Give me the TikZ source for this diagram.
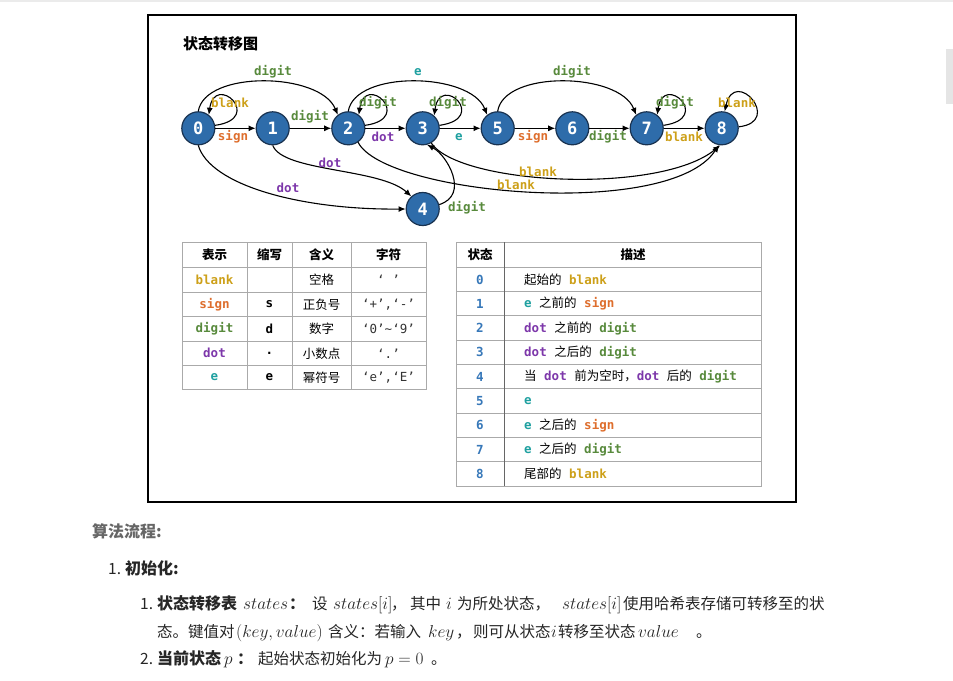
\documentclass[tikz,border=0pt]{standalone}
\usepackage[no-math]{fontspec}
\setmainfont{Noto Sans CJK SC}
\newfontfamily\monof{DejaVu Sans Mono}
\usetikzlibrary{arrows.meta}
\definecolor{cblank}{RGB}{205,160,25}
\definecolor{csign}{RGB}{222,110,45}
\definecolor{cdigit}{RGB}{88,138,60}
\definecolor{cdot}{RGB}{125,55,170}
\definecolor{ce}{RGB}{30,160,160}
\definecolor{cnum}{RGB}{55,120,185}
\definecolor{sfill}{RGB}{46,108,170}
\definecolor{sdraw}{RGB}{25,50,80}
\definecolor{tline}{RGB}{170,170,170}
\newcommand\Kw[2]{\textcolor{#1}{\monof\bfseries #2}}
\newcommand\Kblank{\Kw{cblank}{blank}}
\newcommand\Ksign{\Kw{csign}{sign}}
\newcommand\Kdigit{\Kw{cdigit}{digit}}
\newcommand\Kdot{\Kw{cdot}{dot}}
\newcommand\Ke{\Kw{ce}{e}}
\newcommand\gap{\hspace{0.6em}}
\begin{document}
\begin{tikzpicture}[x=1pt,y=-1pt,
  st/.style={circle, fill=sfill, draw=sdraw, line width=1.2pt, minimum size=33pt, inner sep=0pt, text=white, font=\monof\bfseries\fontsize{17}{17}\selectfont},
  arr/.style={-{Latex[length=7pt,width=6pt]}, line width=1.1pt},
  lbl/.style={font=\monof\bfseries\fontsize{12.5}{13}\selectfont, inner sep=0pt},
  tb/.style={font=\fontsize{12.5}{14}\selectfont, inner sep=0pt},
  tbh/.style={font=\bfseries\fontsize{12.5}{14}\selectfont, inner sep=0pt},
  tbm/.style={font=\monof\fontsize{12.5}{14}\selectfont, inner sep=0pt, text=black!80},
  tnum/.style={font=\monof\bfseries\fontsize{12.5}{14}\selectfont, inner sep=0pt, text=cnum},
  tdesc/.style={font=\fontsize{12.5}{14}\selectfont, inner sep=0pt, anchor=west},
  tgrid/.style={draw=tline, line width=0.9pt},
  body/.style={font=\fontsize{15.5}{19}\selectfont, inner sep=0pt, anchor=base west, text=black!85},
  bodym/.style={body, font=\fontsize{16}{19}\selectfont},
  bodyb/.style={body, font=\bfseries\fontsize{16}{19}\selectfont}
]
\useasboundingbox (0,0) rectangle (953,680);
\fill[white] (0,0) rectangle (953,680);
\draw[black!8, line width=2pt] (0,1) -- (953,1);
\fill[black!10] (946,49) rectangle (953,104);

% frame
\draw[line width=2pt] (148,15) rectangle (796,502);
\node[anchor=west, inner sep=0pt, font=\bfseries\fontsize{15}{17}\selectfont] (title) at (183,44) {状态转移图};

% states
\node[st] (n0) at (198.3,128.3) {0};
\node[st] (n1) at (272.7,128.3) {1};
\node[st] (n2) at (348.3,128.3) {2};
\node[st] (n3) at (422.7,128.3) {3};
\node[st] (n5) at (497.7,128.3) {5};
\node[st] (n6) at (572.3,128.3) {6};
\node[st] (n7) at (646.7,128.3) {7};
\node[st] (n8) at (721.7,128.3) {8};
\node[st] (n4) at (422.7,209) {4};

% straight edges
\draw[arr] (n0) -- (n1);
\draw[arr] (n1) -- (n2);
\draw[arr] (n2) -- (n3);
\draw[arr] (n3) -- (n5);
\draw[arr] (n5) -- (n6);
\draw[arr] (n6) -- (n7);
\draw[arr] (n7) -- (n8);

% top arcs
\draw[arr] (n0.90) .. controls (205,70) and (320,72) .. (n2.128);
\draw[arr] (n2.90) .. controls (355,70) and (470,72) .. (n5.128);
\draw[arr] (n5.90) .. controls (504,70) and (619,72) .. (n7.128);

% self loops
\draw[arr] (n0.10) .. controls +(50,-7) and +(6,-43) .. (n0.52);
\draw[arr] (n2.10) .. controls +(50,-7) and +(6,-43) .. (n2.52);
\draw[arr] (n3.10) .. controls +(50,-7) and +(6,-43) .. (n3.48);
\draw[arr] (n7.10) .. controls +(50,-7) and +(6,-43) .. (n7.52);
\draw[arr] (n8.5) .. controls +(45,-5) and +(10,-45) .. (n8.80);

% lower curves
\draw[arr] (n0.270) .. controls (210,185) and (300,210) .. (n4.180);
\draw[arr] (n1.270) .. controls (283,172) and (380,168) .. (n4.132);
\draw[arr] (n4.15) .. controls (470,195) and (447,155) .. (n3.-75);
\draw[arr] (n3.-60) .. controls (460,185) and (660,195) .. (n8.-95);
\draw[arr] (n2.-55) .. controls (385,195) and (670,220) .. (n8.-100);

% edge labels
\node[lbl, text=cdigit] (l02) at (273,72) {digit};
\node[lbl, text=ce] (l25) at (418,72) {e};
\node[lbl, text=cdigit] (l57) at (572,72) {digit};
\node[lbl, text=cblank] (l00) at (230,103) {blank};
\node[lbl, text=cdigit] (l22) at (378,103) {digit};
\node[lbl, text=cdigit] (l33) at (448,103) {digit};
\node[lbl, text=cdigit] (l77) at (675,103) {digit};
\node[lbl, text=cblank] (l88) at (737,103) {blank};
\node[lbl, text=csign] (l01) at (233,137) {sign};
\node[lbl, text=cdigit] (l12) at (310,117) {digit};
\node[lbl, text=cdot] (l23) at (383,137) {dot};
\node[lbl, text=ce] (l35) at (459,137) {e};
\node[lbl, text=csign] (l56) at (533,137) {sign};
\node[lbl, text=cdigit] (l67) at (608,137) {digit};
\node[lbl, text=cblank] (l78) at (684,137) {blank};
\node[lbl, text=cdot] (l14) at (330,163) {dot};
\node[lbl, text=cdot] (l04) at (288,188) {dot};
\node[lbl, text=cdigit] (l43) at (467,208) {digit};
\node[lbl, text=cblank] (l38) at (538,172) {blank};
\node[lbl, text=cblank] (l28) at (516,185) {blank};

% left table
\draw[tgrid] (182,242.5) rectangle (426,389);
\foreach \yy in {267.3,292.3,316.7,341,365.7} \draw[tgrid] (182,\yy) -- (426,\yy);
\foreach \xx in {247,292,351} \draw[tgrid] (\xx,242.5) -- (\xx,389);
\node[tbh] (h1) at (214.5,255) {表示};
\node[tbh] (h2) at (269.5,255) {缩写};
\node[tbh] (h3) at (321.5,255) {含义};
\node[tbh] (h4) at (388.5,255) {字符};
\node[tb] (a1) at (214.5,279.8) {\Kblank};
\node[tb] (a2) at (214.5,304.5) {\Ksign};
\node[tb] (a3) at (214.5,328.8) {\Kdigit};
\node[tb] (a4) at (214.5,353.3) {\Kdot};
\node[tb] (a5) at (214.5,377.3) {\Ke};
\node[tb] (b2) at (269.5,304.5) {\monof\bfseries s};
\node[tb] (b3) at (269.5,328.8) {\monof\bfseries d};
\node[tb] (b4) at (269.5,353.3) {\monof\bfseries .};
\node[tb] (b5) at (269.5,377.3) {\monof\bfseries e};
\node[tb] (c1) at (321.5,279.8) {空格};
\node[tb] (c2) at (321.5,304.5) {正负号};
\node[tb] (c3) at (321.5,328.8) {数字};
\node[tb] (c4) at (321.5,353.3) {小数点};
\node[tb] (c5) at (321.5,377.3) {幂符号};
\node[tbm] (d1) at (388.5,279.8) {‘ ’};
\node[tbm] (d2) at (388.5,304.5) {‘+’,‘-’};
\node[tbm] (d3) at (388.5,328.8) {‘0’\textasciitilde‘9’};
\node[tbm] (d4) at (388.5,353.3) {‘.’};
\node[tbm] (d5) at (388.5,377.3) {‘e’,‘E’};

% right table
\draw[tgrid] (456,242.3) rectangle (761.7,486);
\foreach \yy in {267.3,291.6,315.9,340.2,364.5,388.8,413.1,437.4,461.7} \draw[tgrid] (456,\yy) -- (761.7,\yy);
\draw[black!60, line width=0.9pt] (504.3,242.3) -- (504.3,486);
\node[tbh] (rh1) at (480,255) {状态};
\node[tbh] (rh2) at (633,255) {描述};
\node[tnum] (s0) at (480,279.5) {0};
\node[tnum] (s1) at (480,303.8) {1};
\node[tnum] (s2) at (480,328.1) {2};
\node[tnum] (s3) at (480,352.4) {3};
\node[tnum] (s4) at (480,376.7) {4};
\node[tnum] (s5) at (480,401) {5};
\node[tnum] (s6) at (480,425.3) {6};
\node[tnum] (s7) at (480,449.6) {7};
\node[tnum] (s8) at (480,473.9) {8};
\node[tdesc] (t0) at (524,279.5) {起始的\gap\Kblank};
\node[tdesc] (t1) at (524,303.8) {\Ke\gap 之前的\gap\Ksign};
\node[tdesc] (t2) at (524,328.1) {\Kdot\gap 之前的\gap\Kdigit};
\node[tdesc] (t3) at (524,352.4) {\Kdot\gap 之后的\gap\Kdigit};
\node[tdesc] (t4) at (524,376.7) {当\gap\Kdot\gap 前为空时，\Kdot\gap 后的\gap\Kdigit};
\node[tdesc] (t5) at (524,401) {\Ke};
\node[tdesc] (t6) at (524,425.3) {\Ke\gap 之后的\gap\Ksign};
\node[tdesc] (t7) at (524,449.6) {\Ke\gap 之后的\gap\Kdigit};
\node[tdesc] (t8) at (524,473.9) {尾部的\gap\Kblank};

% text below
\node[bodyb, text=black!60] (alg) at (92,537) {算法流程:};
\node[body] (i1) at (108,574) {1.};
\node[bodyb] (i1t) at (125,574) {初始化:};
% line A
\node[body] (ja0) at (140,609) {1.};
\node[bodyb] (ja1) at (157,609) {状态转移表};
\node[bodym] (ja2) at (243,609) {$states$};
\node[bodyb] (ja3) at (289,609) {：};
\node[body] (ja4) at (312,609) {设};
\node[bodym] (ja5) at (333,609) {$states[i]$};
\node[body] (ja6) at (391,609) {，};
\node[body] (ja7) at (410,609) {其中};
\node[bodym] (ja8) at (446,609) {$i$};
\node[body] (ja9) at (457,609) {为所处状态，};
\node[bodym] (ja10) at (562,609) {$states[i]$};
\node[body] (ja11) at (623,609) {使用哈希表存储可转移至的状};
% line B
\node[body] (jb1) at (157,637) {态。键值对};
\node[bodym] (jb2) at (236,637) {$(key,value)$};
\node[body] (jb3) at (328,637) {含义：若输入};
\node[bodym] (jb4) at (428,637) {$key$};
\node[body] (jb5) at (456,637) {，};
\node[body] (jb6) at (473,637) {则可从状态};
\node[bodym] (jb7) at (551,637) {$i$};
\node[body] (jb8) at (558,637) {转移至状态};
\node[bodym] (jb9) at (638,637) {$value$};
\node[body] (jb10) at (696,637) {。};
% line C
\node[body] (jc0) at (140,664) {2.};
\node[bodyb] (jc1) at (157,664) {当前状态};
\node[bodym] (jc2) at (224,664) {$p$};
\node[bodyb] (jc3) at (237,664) {：};
\node[body] (jc4) at (258,664) {起始状态初始化为};
\node[bodym] (jc5) at (385,664) {$p=0$};
\node[body] (jc6) at (431,664) {。};
\end{tikzpicture}
\end{document}
